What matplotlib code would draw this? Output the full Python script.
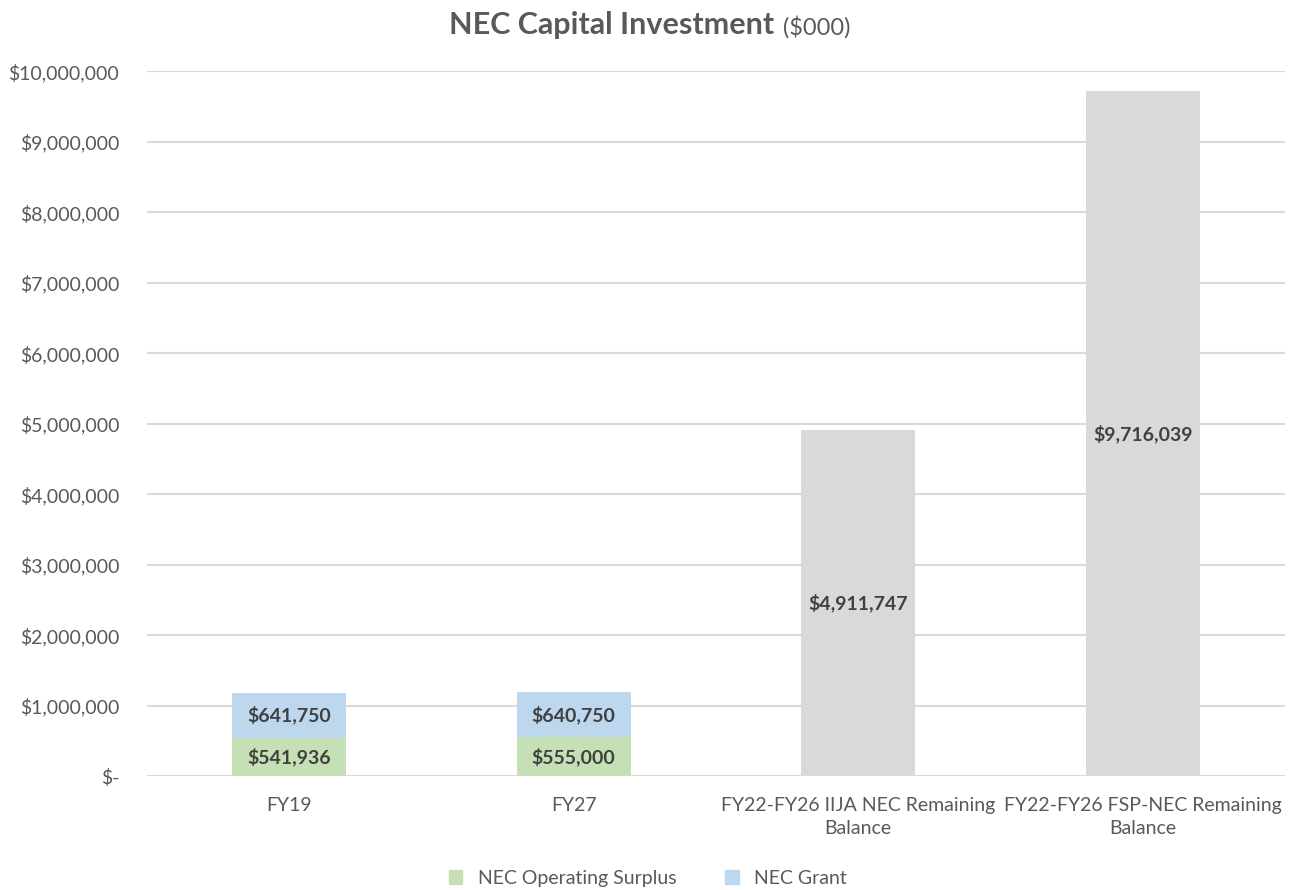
import matplotlib.pyplot as plt
from matplotlib.ticker import FuncFormatter
from matplotlib.patches import Patch

plt.rcParams['font.family'] = ['Lato', 'DejaVu Sans']

categories = ["FY19", "FY27", "FY22-FY26 IIJA NEC Remaining\nBalance",
              "FY22-FY26 FSP-NEC Remaining\nBalance"]
surplus = [541936, 555000, 0, 0]
grant = [641750, 640750, 0, 0]
remaining = [0, 0, 4911747, 9716039]

green = "#c5e0b4"
blue = "#bdd7ee"
gray = "#d9d9d9"
txt = "#595959"
lbl = "#404040"

fig = plt.figure(figsize=(12.96, 8.9), dpi=100)
ax = fig.add_axes([0.1134, 0.128, 0.878, 0.792])

x = list(range(len(categories)))
w = 0.4
ax.bar(x, surplus, width=w, color=green, zorder=2)
ax.bar(x, grant, width=w, bottom=surplus, color=blue, zorder=2)
ax.bar(x, remaining, width=w, color=gray, zorder=2)

for i in x:
    if surplus[i]:
        ax.text(i, surplus[i] / 2, f"${surplus[i]:,}", ha="center", va="center",
                fontsize=14, fontweight="bold", color=lbl, zorder=3)
    if grant[i]:
        ax.text(i, surplus[i] + grant[i] / 2, f"${grant[i]:,}", ha="center", va="center",
                fontsize=14, fontweight="bold", color=lbl, zorder=3)
    if remaining[i]:
        ax.text(i, remaining[i] / 2, f"${remaining[i]:,}", ha="center", va="center",
                fontsize=14, fontweight="bold", color=lbl, zorder=3)

ax.set_xlim(-0.5, 3.5)
ax.set_ylim(0, 10000000)
ax.set_yticks(range(0, 10000001, 1000000))
ax.yaxis.set_major_formatter(FuncFormatter(lambda v, p: "$-" if v == 0 else f"${v:,.0f}"))
ax.set_xticks(x)
ax.set_xticklabels(categories, linespacing=1.45)
ax.tick_params(axis="both", length=0, labelsize=14, colors=txt)
ax.tick_params(axis="y", pad=20)
ax.tick_params(axis="x", pad=15)
for s in ax.spines.values():
    s.set_visible(False)
ax.grid(axis="y", color=gray, linewidth=1.5, zorder=0)
ax.set_axisbelow(True)

fig.text(0.3465, 0.972, "NEC Capital Investment", ha="left", va="center",
         fontsize=22, fontweight="bold", color=txt)
fig.text(0.604, 0.970, "($000)", ha="left", va="center", fontsize=17, color=txt)

handles = [Patch(color=green), Patch(color=blue)]
fig.legend(handles, ["NEC Operating Surplus", "NEC Grant"], loc="center",
           bbox_to_anchor=(0.5, 0.013), ncol=2, frameon=False, fontsize=14,
           labelcolor=txt, handlelength=0.7, handleheight=0.7, columnspacing=2.5)

fig.savefig("out.png", dpi=100)
